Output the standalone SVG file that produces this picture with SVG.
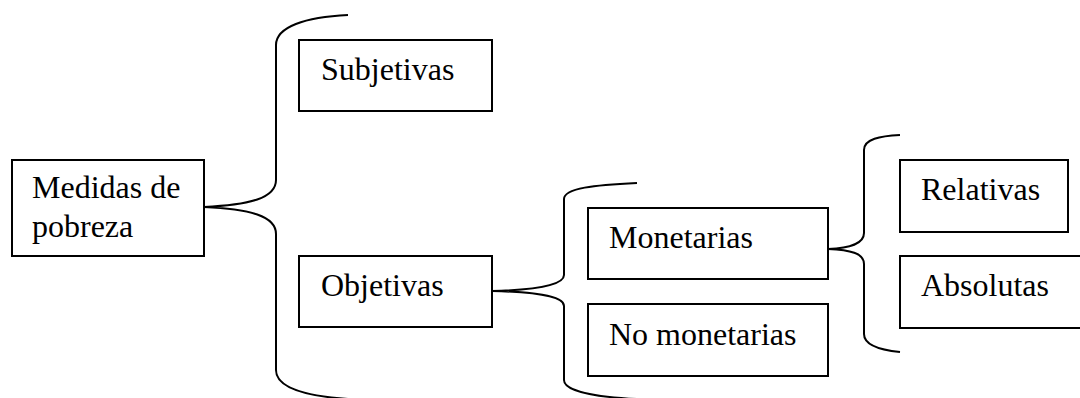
<svg xmlns="http://www.w3.org/2000/svg" width="1080" height="398" viewBox="0 0 1080 398">
<style>
.box{fill:#fff;stroke:#000;stroke-width:2}
.lbl{font-family:"Liberation Serif","Times New Roman",serif;font-size:32px;fill:#000}
.br{fill:none;stroke:#000;stroke-width:2}
</style>
<rect width="1080" height="398" fill="#fff"/>
<g id="connectors">
<path class="br" d="M348,15 C305,17 276,27 276,45 L276,180 C276,198 250,205 204,207 C250,209 276,216 276,234 L276,370 C276,388 305,396 348,399"/>
<path class="br" d="M637,183 C595,185 564,188 564,199 L564,275 C564,286 530,290 492,291 C530,292 564,295 564,306 L564,380 C564,391 595,397 637,399"/>
<path class="br" d="M900,135 C880,136 864,139 864,150 L864,233 C864,244 850,248 828,249 C850,250 864,253 864,264 L864,334 C864,345 880,350 900,352"/>
</g>
<g id="medidas">
<rect class="box" x="12" y="160" width="192" height="96"/>
<text class="lbl" x="32" y="198">Medidas de</text>
<text class="lbl" x="32" y="237">pobreza</text>
</g>
<g id="subjetivas">
<rect class="box" x="299" y="40" width="193" height="71"/>
<text class="lbl" x="321" y="80">Subjetivas</text>
</g>
<g id="objetivas">
<rect class="box" x="299" y="256" width="193" height="71"/>
<text class="lbl" x="321" y="296">Objetivas</text>
</g>
<g id="monetarias">
<rect class="box" x="588" y="208" width="240" height="71"/>
<text class="lbl" x="609" y="248">Monetarias</text>
</g>
<g id="no-monetarias">
<rect class="box" x="588" y="304" width="240" height="72"/>
<text class="lbl" x="609" y="345">No monetarias</text>
</g>
<g id="relativas">
<rect class="box" x="900" y="160" width="168" height="72"/>
<text class="lbl" x="921" y="200">Relativas</text>
</g>
<g id="absolutas">
<rect class="box" x="900" y="256" width="184" height="72"/>
<text class="lbl" x="921" y="296">Absolutas</text>
</g>
</svg>
